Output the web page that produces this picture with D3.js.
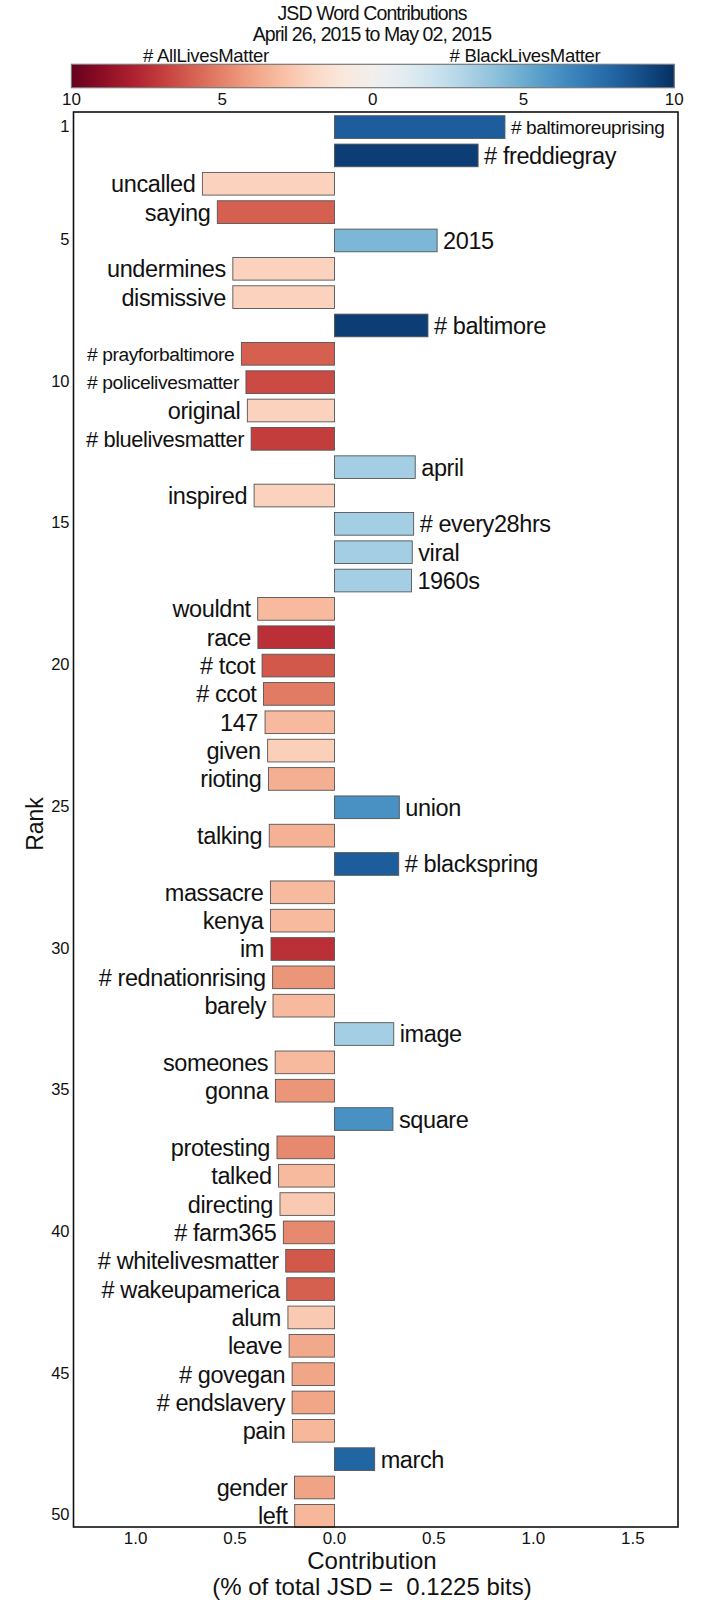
<!DOCTYPE html>
<html><head><meta charset="utf-8">
<script src="https://cdn.jsdelivr.net/npm/d3@7"></script>
<style>body{margin:0;background:#fff}svg{display:block}text{font-family:"Liberation Sans",Arial,Helvetica,sans-serif;fill:#111;white-space:pre}</style>
</head><body>
<svg id="chart" width="710" height="1600"></svg>
<script>
const titleLines = ["JSD Word Contributions", "April 26, 2015 to May 02, 2015"];
const legendLabels = ["# AllLivesMatter", "# BlackLivesMatter"];
const colorbarTicks = [-10, -5, 0, 5, 10];
const rankTicks = [1, 5, 10, 15, 20, 25, 30, 35, 40, 45, 50];
const contribTicks = [-1.0, -0.5, 0.0, 0.5, 1.0, 1.5];
const xTitle = ["Contribution", "(% of total JSD =  0.1225 bits)"];
const yTitle = "Rank";

const words = ["# baltimoreuprising","# freddiegray","uncalled","saying","2015","undermines","dismissive","# baltimore","# prayforbaltimore","# policelivesmatter","original","# bluelivesmatter","april","inspired","# every28hrs","viral","1960s","wouldnt","race","# tcot","# ccot","147","given","rioting","union","talking","# blackspring","massacre","kenya","im","# rednationrising","barely","image","someones","gonna","square","protesting","talked","directing","# farm365","# whitelivesmatter","# wakeupamerica","alum","leave","# govegan","# endslavery","pain","march","gender","left"];
const contributions = [0.857,0.722,-0.664,-0.589,0.516,-0.511,-0.511,0.470,-0.468,-0.445,-0.438,-0.419,0.406,-0.404,0.398,0.391,0.387,-0.386,-0.385,-0.364,-0.357,-0.349,-0.336,-0.332,0.326,-0.328,0.323,-0.322,-0.322,-0.319,-0.311,-0.309,0.298,-0.298,-0.297,0.294,-0.289,-0.281,-0.274,-0.257,-0.245,-0.240,-0.234,-0.228,-0.213,-0.213,-0.211,0.202,-0.201,-0.200];
const colorValues = [8.3,9.5,-2.2,-6,4.5,-2.2,-2.2,9.5,-6,-6.6,-2.2,-7,3.4,-2.2,3.4,3.4,3.4,-3.2,-7.4,-6.2,-5.2,-3.2,-2.3,-3.6,6.1,-3.5,8.3,-3.2,-3.2,-7.4,-4.4,-3.2,3.4,-3.2,-4.4,6.1,-4.8,-3.2,-2.6,-4.8,-6.2,-6,-2.6,-3.8,-3.9,-3.9,-3.3,8,-4,-3.3];
const ranks = words.map((w, i) => i + 1);

const svg = d3.select("#chart");
const frame = {left: 73.5, right: 678, top: 112, bottom: 1527};

const x = d3.scaleLinear().domain([-1.312, 1.727]).range([frame.left, frame.right]);
const y = d3.scaleBand().domain(ranks).range([112.9, 1530]).paddingInner(0.2).paddingOuter(0.1);
const color = d3.scaleSequential(d3.interpolateRdBu).domain([-10, 10]);

// Title
svg.selectAll("text.title").data(titleLines).join("text")
  .attr("class", "title").attr("x", 372).attr("y", (d, i) => 19.5 + i * 21)
  .attr("text-anchor", "middle").style("font-size", "19.5px").style("letter-spacing", "-0.9px").text(d => d);

// Colorbar
const cb = {left: 71.4, right: 674.3, top: 64.3, bottom: 87.7};
const cbx = d3.scaleLinear().domain([-10, 10]).range([cb.left, cb.right]);
const defs = svg.append("defs");
const grad = defs.append("linearGradient").attr("id", "rdbu").attr("x1", "0%").attr("x2", "100%");
d3.range(0, 1.0001, 0.05).forEach(t => grad.append("stop").attr("offset", (t * 100) + "%").attr("stop-color", d3.interpolateRdBu(t)));
svg.append("rect").attr("x", cb.left).attr("y", cb.top).attr("width", cb.right - cb.left).attr("height", cb.bottom - cb.top)
  .attr("fill", "url(#rdbu)").attr("stroke", "#777").attr("stroke-width", 1.2);
svg.selectAll("text.cbtick").data(colorbarTicks).join("text").attr("class", "cbtick")
  .attr("x", d => cbx(d)).attr("y", 105).attr("text-anchor", "middle").style("font-size", "17px").text(d => Math.abs(d));
svg.selectAll("text.legend").data(legendLabels).join("text").attr("class", "legend")
  .attr("x", (d, i) => i === 0 ? 206 : 525).attr("y", 61.5).attr("text-anchor", "middle").style("font-size", "18.5px").style("letter-spacing", "-0.3px").text(d => d);

// Bars
const data = words.map((w, i) => ({word: w, value: contributions[i], c: colorValues[i], rank: ranks[i]}));
svg.append("g").selectAll("rect").data(data).join("rect")
  .attr("x", d => x(Math.min(0, d.value))).attr("width", d => Math.abs(x(d.value) - x(0)))
  .attr("y", d => y(d.rank)).attr("height", y.bandwidth())
  .attr("fill", d => color(d.c)).attr("stroke", "#555").attr("stroke-width", 0.9);

// Word labels (shrink to fit inside frame)
const baseFont = 23.5;
const gapR = 6, gapL = 7;
const labels = svg.append("g").selectAll("text").data(data).join("text")
  .attr("x", d => d.value >= 0 ? x(d.value) + gapR : x(d.value) - gapL)
  .attr("y", d => y(d.rank) + y.bandwidth() / 2)
  .attr("dy", "0.36em")
  .attr("text-anchor", d => d.value >= 0 ? "start" : "end")
  .style("font-size", baseFont + "px").style("letter-spacing", "-0.4px")
  .text(d => d.word);
labels.each(function(d) {
  const w = this.getComputedTextLength();
  const avail = d.value >= 0 ? (frame.right - 12) - (x(d.value) + gapR) : (x(d.value) - gapL) - (frame.left + 12);
  if (w > avail) d3.select(this).style("font-size", (baseFont * avail / w) + "px");
});

// Frame
svg.append("rect").attr("x", frame.left).attr("y", frame.top).attr("width", frame.right - frame.left)
  .attr("height", frame.bottom - frame.top).attr("fill", "none").attr("stroke", "#111").attr("stroke-width", 1.6);

// Rank axis labels
svg.selectAll("text.rank").data(rankTicks).join("text").attr("class", "rank")
  .attr("x", frame.left - 4).attr("y", d => y(d) + y.bandwidth() / 2).attr("dy", "0.28em")
  .attr("text-anchor", "end").style("font-size", "16.5px").text(d => d);
svg.append("text").attr("transform", "translate(43,824) rotate(-90)").attr("text-anchor", "middle")
  .style("font-size", "23px").text(yTitle);

// Contribution axis labels
svg.selectAll("text.xtick").data(contribTicks).join("text").attr("class", "xtick")
  .attr("x", d => x(d)).attr("y", 1543.5).attr("text-anchor", "middle").style("font-size", "17px")
  .text(d => d3.format(".1f")(Math.abs(d)));
svg.selectAll("text.xtitle").data(xTitle).join("text").attr("class", "xtitle")
  .attr("x", 372).attr("y", (d, i) => 1569 + i * 26).attr("text-anchor", "middle").style("font-size", "24px").text(d => d);
</script>
</body></html>
